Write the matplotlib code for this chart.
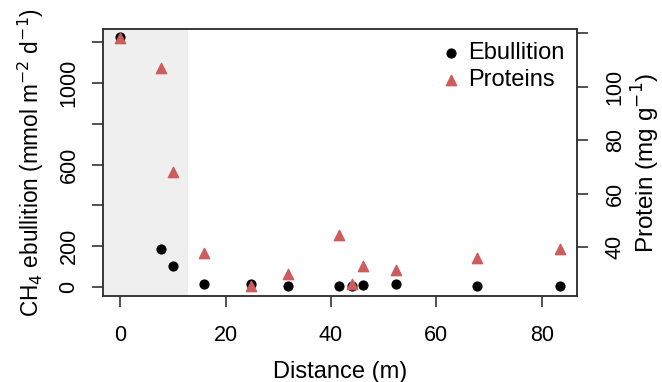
import matplotlib
matplotlib.use('Agg')
import matplotlib.pyplot as plt

plt.rcParams['font.family'] = ['Liberation Sans', 'DejaVu Sans']

# distances (m)
distance = [0, 7.7, 10.0, 15.8, 24.8, 31.8, 41.6, 44.0, 46.0, 52.3, 67.7, 83.4]
# CH4 ebullition (mmol m-2 d-1)
ebullition = [1225, 184, 100, 15, 12, 5, 5, 2, 8, 13, 2, 2]
# protein (mg g-1)
protein = [118.1, 107.1, 68.0, 37.9, 25.4, 29.9, 44.5, 26.3, 33.0, 31.6, 35.9, 39.4]

x_ticks = [0, 20, 40, 60, 80]
left_ticks = [0, 200, 400, 600, 800, 1000, 1200]
left_labels = ['0', '200', '', '600', '', '1000', '']
right_ticks = [40, 60, 80, 100, 120]
right_labels = ['40', '60', '80', '100', '']
shade_end = 12.8

red = '#cd5c5c'

fig = plt.figure(figsize=(6.62, 3.82), dpi=100)
ax = fig.add_axes([0.1556, 0.2251, 0.716, 0.699])
ax2 = ax.twinx()

ax.axvspan(-10, shade_end, color='#efefef', zorder=0, lw=0)
ax.scatter(distance, ebullition, s=40, color='black', marker='o', zorder=3,
           label='Ebullition')
ax2.scatter(distance, protein, s=55, color=red, marker='^', zorder=3,
            label='Proteins')

ax.set_xlim(-3.3, 86.7)
ax.set_ylim(-46, 1266)
ax2.set_ylim(21.8, 121.6)

ax.set_xticks(x_ticks)
ax.set_yticks(left_ticks)
ax.set_yticklabels(left_labels, rotation=90, va='center')
ax2.set_yticks(right_ticks)
ax2.set_yticklabels(right_labels, rotation=90, va='center')

for a in (ax, ax2):
    a.tick_params(length=8, width=1.1, labelsize=15.5, color='#222222', pad=9)
    for sp in a.spines.values():
        sp.set_linewidth(1.1)
        sp.set_color('#333333')
ax.tick_params(axis='x', pad=13)
ax2.tick_params(axis='y', pad=12)

ax.set_xlabel('Distance (m)', fontsize=17, labelpad=11)
ax.set_ylabel('CH$_4$ ebullition (mmol m$^{-2}$ d$^{-1}$)', fontsize=16.3, labelpad=9)
ax2.set_ylabel('Protein (mg g$^{-1}$)', fontsize=17.5, labelpad=3)

h1, l1 = ax.get_legend_handles_labels()
h2, l2 = ax2.get_legend_handles_labels()
ax2.legend(h1 + h2, l1 + l2, loc='upper right', frameon=False, fontsize=17,
           handletextpad=0.1, borderaxespad=0.15, labelspacing=0.2,
           handlelength=1.2)

fig.savefig('out.png', dpi=100)
